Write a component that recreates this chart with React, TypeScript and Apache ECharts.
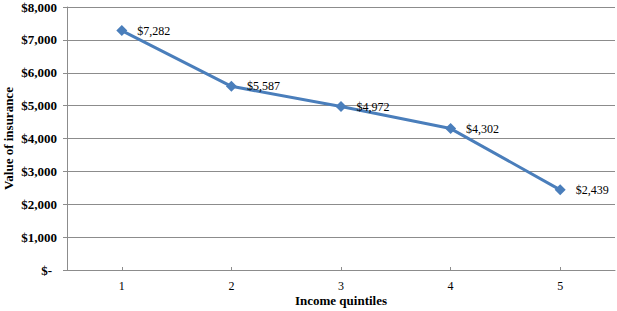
import React, { useEffect, useRef } from "react";
import * as echarts from "echarts";

const categories = ["1", "2", "3", "4", "5"];
const values = [7282, 5587, 4972, 4302, 2439];
const yTicks = { min: 0, max: 8000, interval: 1000 };

const fmt = (v: number) => "$" + v.toLocaleString("en-US");

export default function App() {
  const ref = useRef<HTMLDivElement>(null);
  useEffect(() => {
    const chart = echarts.init(ref.current!, null, { renderer: "svg" });
    const font = "'Liberation Serif', 'Times New Roman', serif";
    chart.setOption({
      animation: false,
      backgroundColor: "#fff",
      textStyle: { fontFamily: font },
      grid: { left: 67, right: 2, top: 7, bottom: 41, containLabel: false, outerBoundsMode: "none" },
      xAxis: {
        type: "category",
        data: categories,
        boundaryGap: true,
        name: "Income quintiles",
        nameLocation: "middle",
        nameGap: 24,
        nameMoveOverlap: false,
        nameTextStyle: { fontFamily: font, fontWeight: "bold", fontSize: 13, color: "#000" },
        axisLine: { lineStyle: { color: "#8c8c8c", width: 1 } },
        axisTick: { show: true, alignWithLabel: true, inside: true, length: 3, lineStyle: { color: "#8c8c8c" } },
        axisLabel: { fontFamily: font, fontSize: 12, color: "#000", margin: 10 },
      },
      yAxis: {
        type: "value",
        min: yTicks.min,
        max: yTicks.max,
        interval: yTicks.interval,
        name: "Value of insurance",
        nameLocation: "middle",
        nameGap: 52,
        nameMoveOverlap: false,
        nameRotate: 90,
        nameTextStyle: { fontFamily: font, fontWeight: "bold", fontSize: 13, color: "#000" },
        axisLine: { show: true, lineStyle: { color: "#8c8c8c", width: 1 } },
        axisTick: { show: true, length: 4, lineStyle: { color: "#8c8c8c" } },
        splitLine: { lineStyle: { color: "#8c8c8c", width: 1 } },
        axisLabel: {
          fontFamily: font,
          fontSize: 13,
          fontWeight: "bold",
          color: "#000",
          margin: 10,
          formatter: (v: number) => (v === 0 ? "{z|$-}" : fmt(v)),
          rich: { z: { fontFamily: font, fontSize: 13, fontWeight: "bold", color: "#000", padding: [0, 5, 0, 0] } },
        },
      },
      series: [
        {
          type: "line",
          data: values,
          symbol: "diamond",
          symbolSize: 11,
          lineStyle: { color: "#4a7ebb", width: 3 },
          itemStyle: { color: "#4a7ebb" },
          label: {
            show: true,
            position: "right",
            distance: 10,
            fontFamily: font,
            fontSize: 12,
            color: "#000",
            formatter: (p: any) => fmt(p.value),
          },
        },
      ],
    });
    return () => chart.dispose();
  }, []);
  return <div ref={ref} style={{ position: "fixed", left: 0, top: 0, width: 617, height: 311 }} />;
}
